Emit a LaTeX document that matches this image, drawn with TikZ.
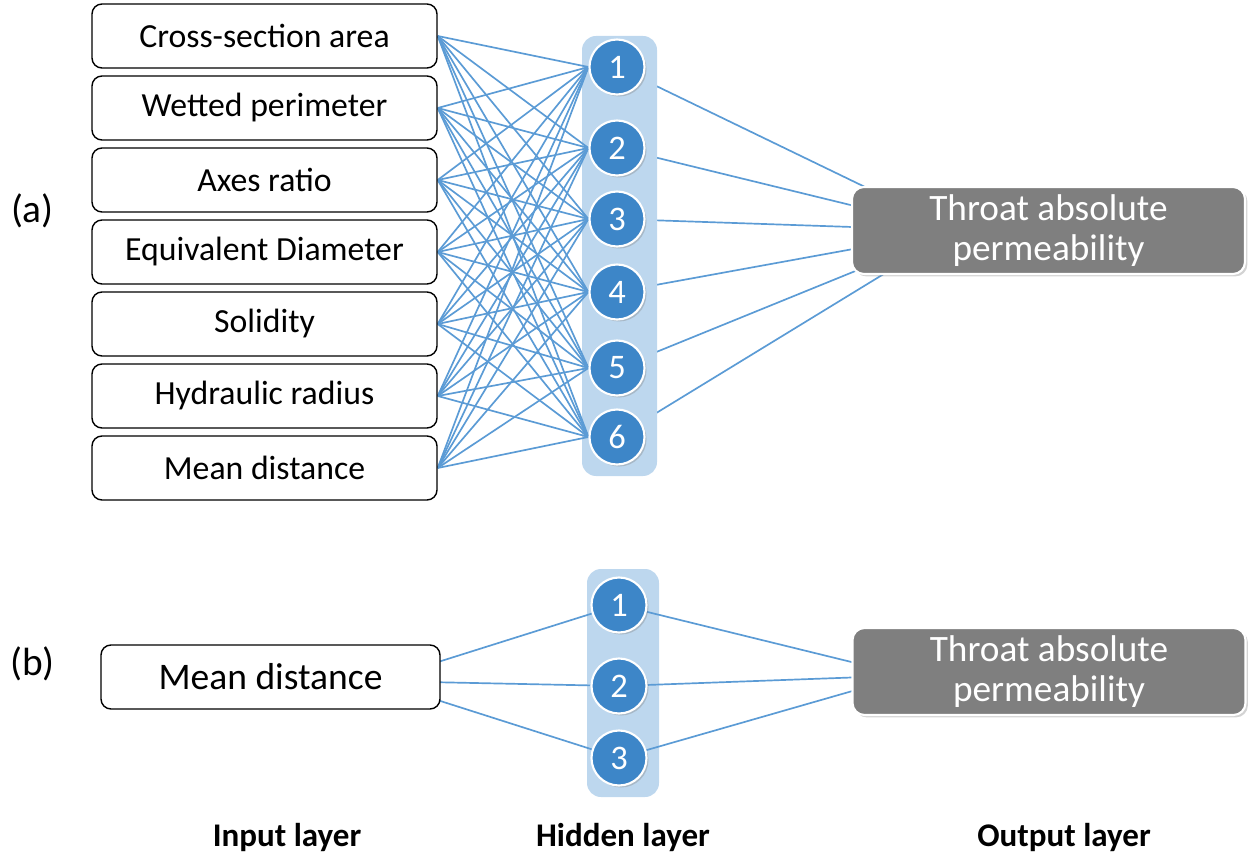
\documentclass[tikz,border=0pt]{standalone}
\usepackage{fontspec}
\setmainfont{Carlito}
\usetikzlibrary{calc,shadows}

\definecolor{panelblue}{RGB}{189,215,238}
\definecolor{unitblue}{RGB}{61,134,200}
\definecolor{linkblue}{RGB}{91,155,213}
\definecolor{outgray}{RGB}{127,127,127}

\pgfdeclarelayer{wires}
\pgfdeclarelayer{panel}
\pgfdeclarelayer{links}
\pgfsetlayers{wires,panel,links,main}

\tikzset{
  inbox/.style={draw, line width=1pt, rounded corners=0.25cm, fill=white,
    minimum width=8.625cm, minimum height=1.6cm, inner sep=0pt,
    font=\fontsize{24}{28}\selectfont},
  unit/.style={circle, draw=white, line width=1.5pt, fill=unitblue,
    minimum size=1.375cm, inner sep=0pt, text=white,
    font=\fontsize{24.5}{28}\selectfont,
    drop shadow={shadow xshift=0.05cm, shadow yshift=-0.05cm, opacity=0.35}},
  outbox/.style={draw=white, line width=1.5pt, fill=outgray,
    rounded corners=0.3cm, minimum width=9.825cm, minimum height=2.175cm,
    align=center, text=white, font=\fontsize{26.5}{28.5}\selectfont,
    drop shadow={shadow xshift=0.06cm, shadow yshift=-0.06cm, opacity=0.35}},
  link/.style={linkblue, line width=1.2pt},
  partlabel/.style={font=\fontsize{28}{32}\selectfont},
  legend/.style={font=\bfseries\fontsize{23.5}{27}\selectfont}
}

\begin{document}
\begin{tikzpicture}
\useasboundingbox (0,0) rectangle (31.2,-21.425);

% (a) seven inputs, six hidden units, one output
\foreach \txt [count=\i] in {Cross-section area, Wetted perimeter, Axes ratio,
    Equivalent Diameter, Solidity, Hydraulic radius, Mean distance}
  \node[inbox] (in\i) at (6.6125,{0.9-1.8*\i}) {\txt};
\foreach \y [count=\j] in {-1.675,-3.7,-5.475,-7.3,-9.2,-10.925}
  \node[unit] (hid\j) at (15.425,\y) {\j};
\node[outbox] (outA) at (26.2125,-5.7625) {Throat absolute\\permeability};
\coordinate (hubA) at ($(outA.west)+(2.6,0)$);

% (b) one input, three hidden units
\node[inbox, minimum width=8.475cm, font=\fontsize{26.7}{30}\selectfont]
  (inB) at (6.7625,-16.925) {Mean distance};
\foreach \y [count=\j] in {-15.125,-17.15,-18.95}
  \node[unit] (hidB\j) at (15.475,\y) {\j};
\node[outbox] (outB) at (26.225,-16.7875) {Throat absolute\\permeability};
\coordinate (hubInB) at ($(inB.east)+(-1.575,-0.1)$);
\coordinate (hubOutB) at ($(outB.west)+(1.375,-0.1)$);

\begin{pgfonlayer}{panel}
\fill[panelblue, rounded corners=0.35cm] (14.55,-0.9) rectangle (16.425,-11.9);
\fill[panelblue, rounded corners=0.35cm] (14.675,-14.225) rectangle (16.475,-19.925);
\end{pgfonlayer}

\begin{pgfonlayer}{wires}
\foreach \j in {1,...,6}
  \draw[link] (hid\j) -- (hubA);
\end{pgfonlayer}

\begin{pgfonlayer}{links}
\foreach \i in {1,...,7}
  \foreach \j in {1,...,6}
    \draw[link] (in\i.east) -- (hid\j.west);
\foreach \j in {1,2,3} {
  \draw[link] (hubInB) -- (hidB\j);
  \draw[link] (hidB\j) -- (hubOutB);
}
\end{pgfonlayer}

\node[partlabel] (tagA) at (0.81,-5.275) {(a)};
\node[partlabel] (tagB) at (0.81,-16.6) {(b)};

\node[legend] (lblIn) at (7.175,-20.95) {Input layer};
\node[legend] (lblHid) at (15.575,-20.95) {Hidden layer};
\node[legend] (lblOut) at (26.6,-20.95) {Output layer};
\end{tikzpicture}
\end{document}
